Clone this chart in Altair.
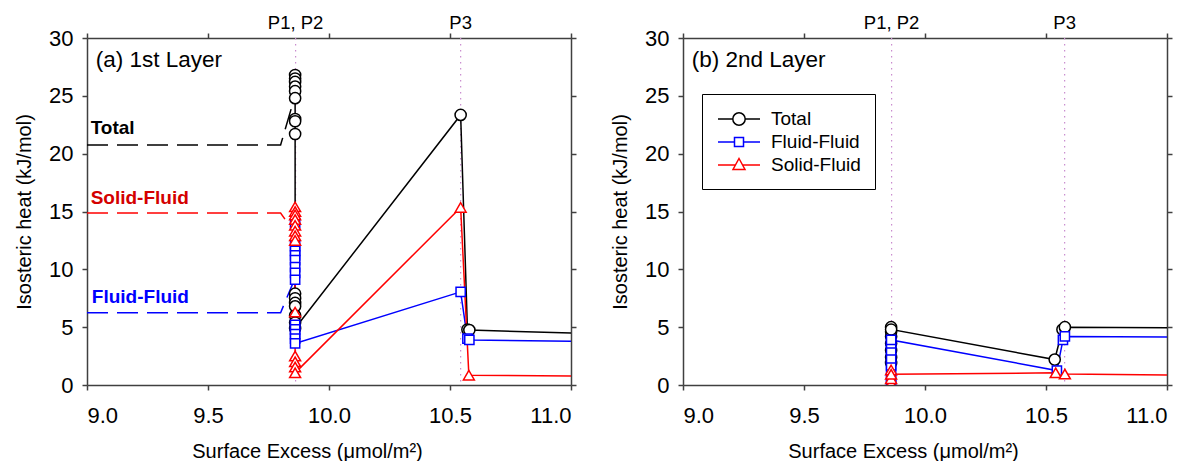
import altair as alt
import pandas as pd

FONT = "Liberation Sans"

# ---- axes -------------------------------------------------------------
x_domain = [9.0, 11.0]
y_domain = [0, 30]
x_ticks = [9.0, 9.5, 10.0, 10.5, 11.0]
y_ticks = [0, 5, 10, 15, 20, 25, 30]

series_names = ["Total", "Fluid-Fluid", "Solid-Fluid"]
series_colors = ["#000000", "#0000ff", "#ff0000"]
series_shapes = ["circle", "square", "triangle-up"]
series_sizes = [125, 85, 120]

# ---- (a) 1st layer ------------------------------------------------------
l1_total_x = [9.86] * 16 + [10.544, 10.572, 10.58, 11.3]
l1_total_y = [26.8, 26.5, 26.2, 25.8, 25.4, 24.8, 23.0, 22.8, 21.7,
              7.9, 7.5, 7.1, 6.8, 6.0, 5.4, 4.9,
              23.35, 4.8, 4.75, 4.33]

l1_fluid_x = [9.86] * 13 + [10.544, 10.572, 10.58, 11.3]
l1_fluid_y = [14.0, 12.0, 11.6, 11.2, 10.8, 10.2, 9.7, 9.1,
              5.2, 4.8, 4.4, 4.0, 3.6,
              8.05, 4.0, 3.9, 3.7]

l1_solid_x = [9.86] * 13 + [10.544, 10.578, 11.3]
l1_solid_y = [15.4, 15.0, 14.7, 14.3, 13.8, 13.3, 12.9, 12.5,
              6.3, 2.5, 2.0, 1.55, 1.05,
              15.35, 0.85, 0.72]

l1_marks_x = [9.862, 10.544]
l1_marks_text = ["P1, P2", "P3"]

# callout labels drawn with dashed leaders
l1_callout_text = ["Total", "Solid-Fluid", "Fluid-Fluid"]
l1_callout_color = ["#000000", "#d40000", "#0000ff"]
l1_callout_label_x = [9.015, 9.015, 9.02]
l1_callout_label_y = [22.2, 16.15, 7.6]
l1_leader_x = [[9.0, 9.80, 9.851], [9.0, 9.80, 9.855], [9.0, 9.80, 9.855]]
l1_leader_y = [[20.75, 20.75, 24.4], [14.86, 14.86, 13.27], [6.25, 6.25, 9.0]]
l1_leader_color = ["#000000", "#ff0000", "#0000ff"]

# ---- (b) 2nd layer ------------------------------------------------------
l2_total_x = [9.86] * 8 + [10.536, 10.568, 10.578, 11.3]
l2_total_y = [1.9, 2.4, 3.0, 3.6, 4.2, 4.6, 5.0, 4.8,
              2.2, 4.8, 5.0, 4.93]

l2_fluid_x = [9.86] * 8 + [10.545, 10.57, 10.578, 11.3]
l2_fluid_y = [0.0, 0.5, 1.2, 1.7, 2.3, 3.0, 3.6, 3.9,
              1.25, 3.9, 4.2, 4.13]

l2_solid_x = [9.86] * 4 + [10.54, 10.578, 11.3]
l2_solid_y = [0.15, 0.55, 1.3, 0.92, 1.05, 0.95, 0.8]

l2_marks_x = [9.862, 10.577]
l2_marks_text = ["P1, P2", "P3"]

panel_label_x = 9.036
panel_label_y = 28.1

PLOT_W = 484
PLOT_H = 347

# legend glyphs: line stub + marker, in unit symbol coordinates
legend_paths = [
    "M-2.1,0H-0.62M0.62,0H2.1M0.62,0A0.62,0.62 0 1,1 -0.62,0A0.62,0.62 0 1,1 0.62,0Z",
    "M-2.1,0H-0.45M0.45,0H2.1M-0.45,-0.45H0.45V0.45H-0.45Z",
    "M-2.1,0H-0.35M0.35,0H2.1M0,-0.65L0.6,0.45H-0.6Z",
]


def xs(axis=None):
    return alt.X("x:Q", scale=alt.Scale(domain=x_domain, nice=False, zero=False),
                 axis=axis)


def ys(axis=None):
    return alt.Y("y:Q", scale=alt.Scale(domain=y_domain, nice=False, zero=False),
                 axis=axis)


def frame(x, y):
    return pd.DataFrame({"x": x, "y": y, "i": list(range(len(x)))})


def panel(series, marks_x, marks_text, label, callouts=None, legend=False):
    layers = []

    mk = pd.DataFrame({"x": marks_x, "t": marks_text})
    bottom = alt.Axis(values=x_ticks, format=".1f", orient="bottom",
                      title="Surface Excess (\u03bcmol/m\u00b2)", titleX=220,
                      labelPadding=15, titlePadding=15)
    left = alt.Axis(values=y_ticks, orient="left", title="Isosteric heat (kJ/mol)",
                    labelPadding=9, titlePadding=14)
    rules = alt.Chart(mk).mark_rule(color="#c98ccf", strokeWidth=1.2,
                                    strokeDash=[1.5, 4.5]).encode(x=xs(bottom))
    frame_ax = alt.Chart(mk).mark_rule(opacity=0).encode(
        x=xs(alt.Axis(values=x_ticks, orient="top", labels=False, title=None)),
        y=ys(alt.Axis(values=y_ticks, orient="right", labels=False, title=None)),
    ).transform_calculate(y="0")
    left_ax = alt.Chart(mk).mark_rule(opacity=0).encode(
        y=ys(left)).transform_calculate(y="0")
    layers += [rules, frame_ax, left_ax]

    layers.append(alt.Chart(mk).mark_text(font=FONT, fontSize=18.5,
                                          baseline="alphabetic").encode(
        x=xs(), y=alt.value(-9), text="t:N"))

    if callouts:
        for txt, col, lx, ly, px, py, lcol in callouts:
            d = frame(px, py)
            layers.append(alt.Chart(d).mark_line(color=lcol, strokeWidth=1.5,
                                                 strokeDash=[21, 9]).encode(
                x=xs(), y=ys(), order="i:Q"))
            t = pd.DataFrame({"x": [lx], "y": [ly], "t": [txt]})
            layers.append(alt.Chart(t).mark_text(font=FONT, fontSize=19, fontWeight="bold",
                                                 align="left", baseline="middle",
                                                 color=col).encode(
                x=xs(), y=ys(), text="t:N"))

    for (x, y), col in zip(series, series_colors):
        d = frame(x, y)
        layers.append(alt.Chart(d).mark_line(color=col, strokeWidth=1.5, clip=True).encode(
            x=xs(), y=ys(), order="i:Q"))
    for (x, y), col, shp, sz in zip(series, series_colors, series_shapes, series_sizes):
        d = frame(x, y)
        layers.append(alt.Chart(d).mark_point(shape=shp, color=col, fill="white",
                                              filled=True, stroke=col, strokeWidth=1.5,
                                              size=sz, opacity=1, clip=True).encode(
            x=xs(), y=ys()))

    lab = pd.DataFrame({"x": [panel_label_x], "y": [panel_label_y], "t": [label]})
    layers.append(alt.Chart(lab).mark_text(font=FONT, fontSize=22.5, align="left",
                                           baseline="middle").encode(
        x=xs(), y=ys(), text="t:N"))

    if legend:
        leg = alt.Legend(title=None, orient="none", legendX=19, legendY=56,
                         strokeColor="black", padding=14,
                         symbolSize=400, symbolStrokeWidth=1.5, symbolOffset=12,
                         labelOffset=21, labelFont=FONT, labelFontSize=19,
                         labelColor="black", rowPadding=2, fillColor="white")
        ld = pd.DataFrame({"series": series_names})
        layers.append(alt.Chart(ld).transform_filter("false").mark_point(
            filled=False, strokeWidth=1.5, opacity=1).encode(
            color=alt.Color("series:N", scale=alt.Scale(domain=series_names,
                                                        range=series_colors), legend=leg),
            shape=alt.Shape("series:N", scale=alt.Scale(domain=series_names,
                                                        range=legend_paths), legend=leg),
        ))

    return alt.layer(*layers).resolve_axis(x="independent", y="independent").properties(
        width=PLOT_W, height=PLOT_H)


callouts1 = list(zip(l1_callout_text, l1_callout_color, l1_callout_label_x,
                     l1_callout_label_y, l1_leader_x, l1_leader_y, l1_leader_color))

p1 = panel([(l1_total_x, l1_total_y), (l1_fluid_x, l1_fluid_y), (l1_solid_x, l1_solid_y)],
           l1_marks_x, l1_marks_text, "(a) 1st Layer", callouts=callouts1)
p2 = panel([(l2_total_x, l2_total_y), (l2_fluid_x, l2_fluid_y), (l2_solid_x, l2_solid_y)],
           l2_marks_x, l2_marks_text, "(b) 2nd Layer", legend=True)

chart = alt.hconcat(p1, p2, spacing=33).resolve_scale(
    color="independent", shape="independent"
).properties(
    padding={"left": 14, "top": 14, "right": 5, "bottom": 0}
).configure_view(stroke=None).configure_axis(
    grid=False, domainColor="#404040", domainWidth=1.5, tickColor="#404040",
    tickWidth=1.5, tickSize=5, labelFont=FONT, labelFontSize=22, labelColor="black",
    titleFont=FONT, titleFontSize=20, titleFontWeight="normal", titleColor="black",
)

chart.save("out.html", embed_options={"renderer": "svg", "actions": False})
